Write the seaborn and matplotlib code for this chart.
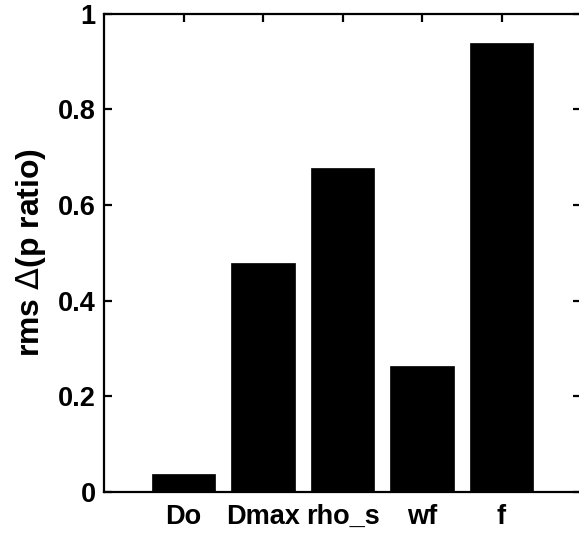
import matplotlib
matplotlib.use("Agg")
import matplotlib.pyplot as plt
import seaborn as sns
import pandas as pd

categories = ["Do", "Dmax", "rho_s", "wf", "f"]
values = [0.037, 0.478, 0.677, 0.263, 0.939]
yticks = [0, 0.2, 0.4, 0.6, 0.8, 1]
ytick_labels = ["0", "0.2", "0.4", "0.6", "0.8", "1"]

sns.set_theme(style="white")
plt.rcParams['font.family'] = ['Liberation Sans', 'DejaVu Sans']
plt.rcParams['mathtext.fontset'] = 'dejavusans'

df = pd.DataFrame({"cat": categories, "val": values})

fig = plt.figure(figsize=(5.79, 5.40), dpi=100)
ax = fig.add_axes([104/579, 1 - 492/540, (581 - 104)/579, (492 - 13.5)/540])

sns.barplot(data=df, x="cat", y="val", color="black", width=0.8,
            saturation=1, ax=ax, edgecolor="black", linewidth=0.5)

ax.set_xlim(-1, 5)
ax.set_ylim(0, 1)
ax.set_yticks(yticks)
ax.set_yticklabels(ytick_labels)
ax.set_xlabel("")
ax.set_ylabel(r"rms $\Delta$(p ratio)", fontsize=23, fontweight="bold",
              color="black", labelpad=7)
ax.set_axisbelow(True)

for s in ax.spines.values():
    s.set_visible(True)
    s.set_color("black")
    s.set_linewidth(1.6)

ax.tick_params(axis="both", direction="in", length=6, width=1.6, color="black",
               top=True, right=True, bottom=True, left=True,
               labelsize=19.5, labelcolor="black")
ax.tick_params(axis="x", pad=8.5)
ax.tick_params(axis="y", pad=6)
for lbl in ax.get_xticklabels() + ax.get_yticklabels():
    lbl.set_fontweight("bold")

fig.savefig("out.png", dpi=100, facecolor="white")
